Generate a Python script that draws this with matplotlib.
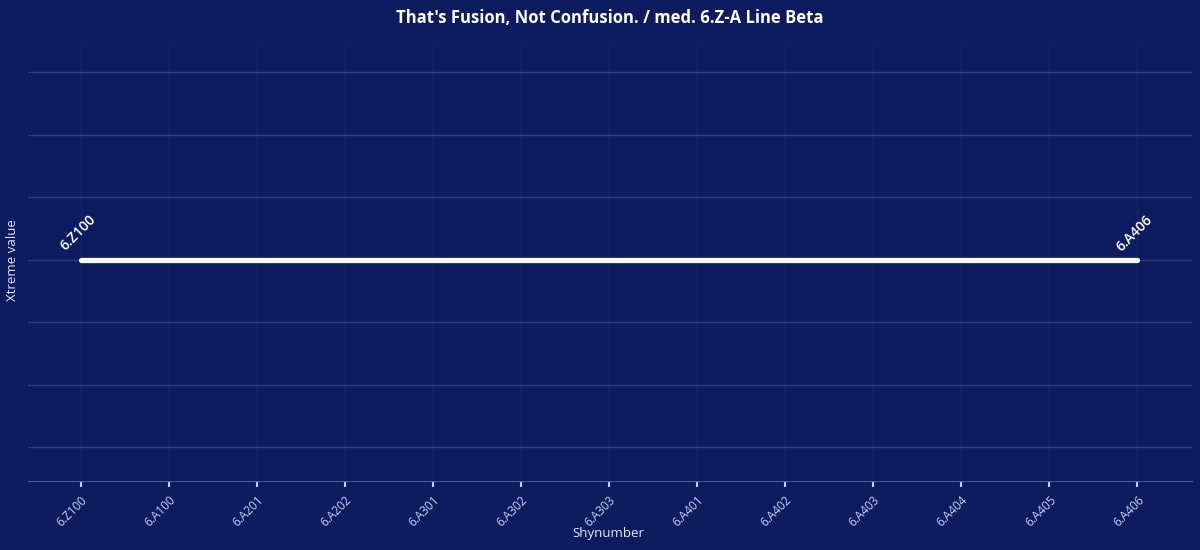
import matplotlib
matplotlib.use("Agg")
import matplotlib.pyplot as plt

# data
shynumbers = ["6.Z100", "6.A100", "6.A201", "6.A202", "6.A301", "6.A302", "6.A303",
              "6.A401", "6.A402", "6.A403", "6.A404", "6.A405", "6.A406"]
xtreme_values = [0, 0, 0, 0, 0, 0, 0, 0, 0, 0, 0, 0, 0]
labelled = ["6.Z100", "6.A406"]
title = "That's Fusion, Not Confusion. / med. 6.Z-A Line Beta"

BG = "#0d1c5e"
plt.rcParams["font.family"] = ["Open Sans", "DejaVu Sans"]

fig = plt.figure(figsize=(12, 5.5), dpi=100, facecolor=BG)
ax = fig.add_axes([0.0233, 0.1255, 0.97, 0.7945], facecolor=BG)

xs = list(range(len(shynumbers)))
ax.plot(xs, xtreme_values, color="white", lw=3.8, solid_capstyle="round", zorder=3)

for i, name in enumerate(shynumbers):
    if name in labelled:
        ax.annotate(name, (xs[i], xtreme_values[i]), xytext=(-3, 27),
                    textcoords="offset pixels", rotation=45, ha="center", va="center",
                    color="white", fontsize=10, fontweight="semibold")

ax.set_xlim(-0.6, len(shynumbers) - 1 + 0.62)
ax.set_ylim(-3.536, 3.456)
ax.set_yticks([-3, -2, -1, 0, 1, 2, 3])
ax.set_yticklabels([])
ax.tick_params(axis="y", length=0)
ax.set_xticks(xs)
ax.set_xticklabels(shynumbers, rotation=45, ha="right", rotation_mode="anchor",
                   color="#c9d0ee", fontsize=8.5)
ax.tick_params(axis="x", length=4, width=1.5, color="#c9d0ee", pad=5)

ax.grid(axis="y", color="#2c3c80", lw=1)
ax.grid(axis="x", color="#16266a", lw=0.8)
for s in ["top", "right", "left"]:
    ax.spines[s].set_visible(False)
ax.spines["bottom"].set_color("#4858a0")

ax.set_xlabel("Shynumber", color="#e6e9f5", fontsize=9.5)
ax.set_ylabel("Xtreme value", color="#e6e9f5", fontsize=9.5)
ax.xaxis.set_label_coords(0.499, -0.121)
ax.yaxis.set_label_coords(-0.0129, 0.506)
ax.xaxis.label.set_va("center")
ax.yaxis.label.set_va("center")
fig.text(0.508, 0.968, title, ha="center", va="center", color="white",
         fontsize=12, fontweight="bold")

fig.savefig("out.png", dpi=100, facecolor=BG)
